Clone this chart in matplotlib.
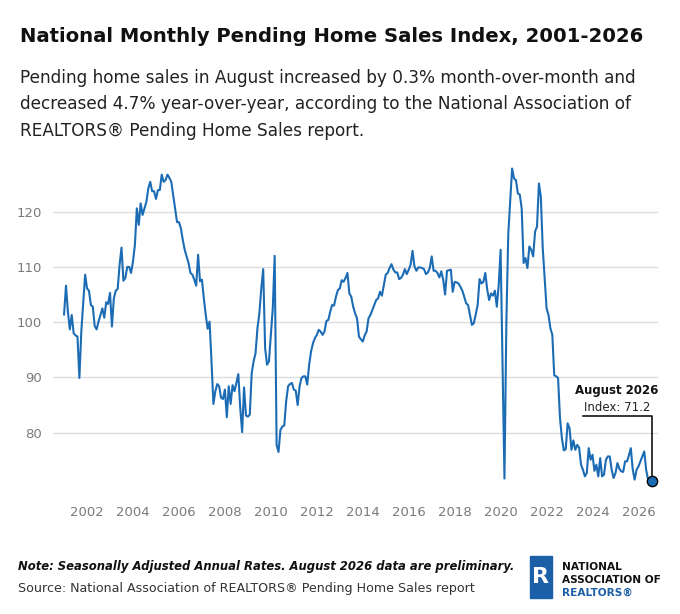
import matplotlib.pyplot as plt
from matplotlib.patches import Rectangle
import numpy as np

# Pending Home Sales Index, monthly, Jan 2001 - Aug 2026
index_values = [
    101.4, 106.6, 101.9, 98.7, 101.3, 98.0, 97.6, 97.4, 89.9, 98.3,
    103.5, 108.6, 106.1, 105.7, 103.1, 102.8, 99.3, 98.7, 100.1, 101.3,
    102.5, 100.8, 103.6, 103.3, 105.3, 99.2, 104.3, 105.7, 106.0, 110.4,
    113.5, 107.5, 108.0, 110.0, 110.0, 108.9, 111.0, 114.0, 120.6, 117.6,
    121.5, 119.4, 120.6, 121.8, 124.2, 125.4, 123.7, 123.7, 122.3, 123.9,
    123.9, 126.7, 125.4, 125.7, 126.7, 126.1, 125.4, 123.0, 120.6, 118.1,
    118.1, 117.0, 114.9, 113.1, 111.9, 110.7, 108.9, 108.6, 107.7, 106.6,
    112.2, 107.4, 107.7, 104.3, 101.3, 98.8, 100.1, 92.9, 85.2,
    87.5, 88.8, 88.4, 86.3, 86.1, 87.8, 82.8, 88.4, 85.2, 88.6,
    87.5, 89.0, 90.6, 84.5, 80.1, 88.2, 83.1, 82.9, 83.3, 90.8,
    92.9, 94.4, 98.9, 101.6, 106.1, 109.6, 95.3, 92.3, 92.9, 97.7,
    102.5, 112.0, 77.8, 76.5, 80.5, 81.1, 81.3, 85.7, 88.4, 88.8,
    89.0, 87.8, 87.6, 85.0, 88.4, 89.9, 90.2, 90.2, 88.7, 92.3,
    94.7, 96.2, 97.1, 97.7, 98.6, 98.3, 97.7, 98.3, 100.2, 100.4,
    101.9, 103.1, 103.0, 104.6, 105.8, 106.1, 107.6, 107.3, 108.0, 108.9,
    105.2, 104.6, 102.8, 101.6, 100.7, 97.4,
    96.9, 96.5, 97.6, 98.3, 100.7, 101.3, 102.2, 103.1, 104.0, 104.3,
    105.5, 104.8, 106.7, 108.6, 108.9, 109.8, 110.5, 109.5, 109.0, 109.0,
    107.8, 108.0, 108.6, 109.6, 108.7, 109.5, 110.4, 112.9, 110.1, 109.3,
    109.9, 109.9, 109.8, 109.6, 108.7, 109.0, 109.8, 111.9, 109.3, 109.3,
    108.9, 108.1, 109.2, 107.7, 105.0, 109.3, 109.4, 109.5, 105.5, 107.3,
    107.2, 107.0, 106.4, 105.7, 104.6, 103.4, 103.1, 101.3, 99.5, 99.8,
    101.4, 103.1, 107.8, 107.0, 107.3, 108.9, 105.9, 104.0, 105.2, 104.8,
    105.7, 102.8, 106.7, 113.1, 92.3, 71.7,
    100.0, 116.0, 122.0, 127.8,
    126.0, 125.7, 123.3, 123.1, 120.6, 110.7, 111.6, 109.8, 113.7, 113.1,
    111.9, 116.4, 117.3, 125.1, 122.7, 113.4, 108.0, 102.5, 101.3, 98.9,
    97.7, 90.4, 90.2, 89.9, 82.7, 79.0, 76.8, 77.0, 81.7, 80.8,
    76.9, 78.6, 76.9, 77.8, 77.3, 74.2, 73.3, 72.1, 72.7, 77.2,
    75.1, 76.0, 73.1, 74.2, 72.1, 75.4, 72.1, 72.4, 75.1, 75.7,
    75.7, 73.3, 71.8, 72.7, 74.5, 73.5, 73.0, 72.9, 74.8, 74.8,
    75.9, 77.2, 73.3, 71.5, 73.3, 73.9, 74.8, 75.7, 76.6, 73.3,
    71.5, 71.3, 71.2,
]
start_year = 2001
year_ticks = list(range(2002, 2027, 2))
y_ticks = [80, 90, 100, 110, 120]
last_label = "August 2026"
last_value = 71.2

months = np.arange(len(index_values))
x = start_year + months / 12.0

blue = "#1c6cb5"
grey_txt = "#7a7a7a"

plt.rcParams['font.family'] = ['DejaVu Sans']

fig = plt.figure(figsize=(6.8, 6.14), dpi=100)
ax = fig.add_axes([0.078, 0.199, 0.890, 0.540])

ax.plot(x, index_values, color=blue, linewidth=1.5, zorder=3)
ax.scatter([x[-1]], [last_value], s=55, color=blue, edgecolor="black",
           linewidth=1.0, zorder=5)

# callout line + label
ax.plot([2023.6, x[-1], x[-1]], [83.1, 83.1, last_value], color="black",
        linewidth=1.1, zorder=4)
ax.text(2025.07, 87.6, last_label, ha="center", va="center", fontsize=8.5,
        fontweight="bold", color="#111111")
ax.text(2025.07, 84.6, "Index: 71.2", ha="center", va="center", fontsize=8.5,
        color="#222222")

ax.set_xlim(2000.52, 2026.86)
ax.set_ylim(69.3, 129.3)
ax.set_yticks(y_ticks)
ax.set_xticks(year_ticks)
ax.set_xticklabels([str(y) for y in year_ticks])
ax.grid(True, axis="y", color="#dddddd", linewidth=1.0)
ax.set_axisbelow(True)
for s in ax.spines.values():
    s.set_visible(False)
ax.tick_params(axis="both", length=0, colors=grey_txt, labelsize=9.5)
ax.tick_params(axis="y", pad=8)
ax.tick_params(axis="x", pad=10)

# header
fig.text(0.029, 0.94, "National Monthly Pending Home Sales Index, 2001-2026",
         fontsize=14.1, fontweight="bold", color="#111111", va="center")
fig.text(0.029, 0.888,
         "Pending home sales in August increased by 0.3% month-over-month and\n"
         "decreased 4.7% year-over-year, according to the National Association of\n"
         "REALTORS\u00ae Pending Home Sales report.",
         fontsize=12.2, color="#222222", va="top", linespacing=1.6)

# footer
fig.text(0.027, 0.077,
         "Note: Seasonally Adjusted Annual Rates. August 2026 data are preliminary.",
         fontsize=8.4, fontweight="bold", fontstyle="italic", color="#111111",
         va="center")
fig.text(0.027, 0.041,
         "Source: National Association of REALTORS\u00ae Pending Home Sales report",
         fontsize=9.1, color="#333333", va="center")

# logo
fig.add_artist(Rectangle((530 / 680, 1 - 598 / 614), 22 / 680, 42 / 614,
                         transform=fig.transFigure, color="#1a5fa8"))
fig.text(541 / 680, 1 - 577 / 614, "R", fontsize=16, fontweight="bold",
         color="white", ha="center", va="center")
fig.text(562 / 680, 1 - 567 / 614, "NATIONAL", fontsize=7.6, fontweight="bold",
         color="#111111", va="center")
fig.text(562 / 680, 1 - 580 / 614, "ASSOCIATION OF", fontsize=7.6,
         fontweight="bold", color="#111111", va="center")
fig.text(562 / 680, 1 - 593 / 614, "REALTORS\u00ae", fontsize=7.6,
         fontweight="bold", color="#1a5fa8", va="center")

plt.savefig("out.png", dpi=100)
plt.close(fig)
